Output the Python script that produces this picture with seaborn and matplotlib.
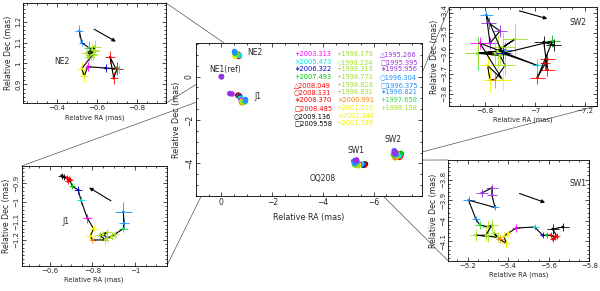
import numpy as np
import pandas as pd
import matplotlib
matplotlib.use("Agg")
import matplotlib.pyplot as plt
from matplotlib.ticker import MultipleLocator, FixedLocator, FuncFormatter
from matplotlib.patches import ConnectionPatch
import seaborn as sns

# ---------------- data ----------------
EPOCHS = ["1995.266", "1995.395", "1995.956", "1996.304", "1996.375", "1996.821",
          "1997.658", "1998.158", "1998.179", "1998.234", "1998.313", "1998.771",
          "1998.828", "1998.831", "2000.991", "2001.010", "2001.348", "2001.785",
          "2003.313", "2005.473", "2006.322", "2007.493", "2008.049", "2008.131",
          "2008.370", "2008.485", "2009.136", "2009.558"]
EPOCH_COLORS = ["#9a30e6", "#9a30e6", "#9a30e6", "#1e90ff", "#1e90ff", "#1e90ff",
                "#2ed84a", "#a2e028", "#a2e028", "#a2e028", "#a2e028", "#a2e028",
                "#a2e028", "#a2e028", "#ff8000", "#f2f200", "#f2f200", "#f2f200",
                "#ff00ff", "#00dede", "#0000cd", "#00c800", "#ff0000", "#ff0000",
                "#ff0000", "#ff0000", "#000000", "#000000"]
LEGEND_COL1 = ["2003.313", "2005.473", "2006.322", "2007.493", "2008.049", "2008.131",
               "2008.370", "2008.485", "2009.136", "2009.558"]
LEGEND_COL2 = ["1998.179", "1998.234", "1998.313", "1998.771", "1998.828", "1998.831",
               "2000.991", "2001.010", "2001.348", "2001.785"]
LEGEND_COL3 = ["1995.266", "1995.395", "1995.956", "1996.304", "1996.375", "1996.821",
               "1997.658", "1998.158"]
SYM_COL1 = ["+", "×", "∗", "+", "△", "○", "∗", "□", "○", "□"]
SYM_COL2 = ["+", "◇", "+", "+", "+", "+", "×", "+", "×", "+"]
SYM_COL3 = ["△", "□", "∗", "○", "□", "∗", "+", "+"]

J1_YTICKS = [-0.9, -1.0, -1.1, -1.2]

# NE2 component
NE2_EP = [3, 4, 6, 7, 8, 9, 10, 11, 12, 13, 15, 16, 18, 20, 19, 21, 22, 23, 24]
NE2_RA = [-0.513, -0.525, -0.560, -0.585, -0.570, -0.590, -0.560, -0.578, -0.550, -0.582,
          -0.525, -0.538, -0.555, -0.645, -0.712, -0.697, -0.667, -0.685, -0.702]
NE2_DEC = [1.155, 1.100, 1.075, 1.060, 1.040, 1.080, 1.030, 1.065, 1.050, 1.045,
           0.975, 0.940, 0.985, 0.978, 0.975, 0.972, 1.030, 0.930, 0.975]
NE2_ERA = [0.020, 0.015, 0.025, 0.03, 0.03, 0.03, 0.025, 0.03, 0.03, 0.025,
           0.025, 0.02, 0.015, 0.015, 0.02, 0.015, 0.025, 0.02, 0.03]
NE2_EDEC = [0.030, 0.015, 0.030, 0.03, 0.03, 0.03, 0.030, 0.03, 0.03, 0.030,
            0.030, 0.03, 0.020, 0.020, 0.02, 0.015, 0.030, 0.03, 0.03]

# J1 component
J1_EP = [3, 4, 6, 7, 8, 9, 10, 11, 12, 13, 14, 15, 16, 18, 19, 20, 21, 22, 23, 24, 25, 26, 27]
J1_RA = [-0.945, -0.948, -0.945, -0.905, -0.890, -0.870, -0.850, -0.870, -0.835, -0.860,
         -0.800, -0.790, -0.805, -0.776, -0.746, -0.733, -0.705, -0.690, -0.685, -0.695,
         -0.680, -0.665, -0.655]
J1_DEC = [-1.050, -1.112, -1.140, -1.170, -1.180, -1.190, -1.170, -1.160, -1.175, -1.200,
          -1.200, -1.180, -1.140, -1.085, -0.990, -0.935, -0.915, -0.875, -0.890, -0.880,
          -0.870, -0.865, -0.860]
J1_ERA = [0.040, 0.025, 0.020, 0.02, 0.02, 0.02, 0.02, 0.02, 0.025, 0.02,
          0.015, 0.02, 0.02, 0.020, 0.020, 0.020, 0.015, 0.015, 0.015, 0.015,
          0.015, 0.015, 0.015]
J1_EDEC = [0.050, 0.030, 0.020, 0.02, 0.02, 0.02, 0.02, 0.02, 0.02, 0.02,
           0.015, 0.02, 0.02, 0.025, 0.025, 0.020, 0.015, 0.015, 0.015, 0.015,
           0.015, 0.015, 0.015]
J1_EARLY_EP = [0, 1]
J1_EARLY_RA = [-0.33, -0.42]
J1_EARLY_DEC = [-0.78, -0.80]

# NE1 reference
NE1_EP = [20, 0]
NE1_RA = [0.0, 0.0]
NE1_DEC = [0.0, 0.0]

# SW1 component
SW1_EP = list(range(28))
SW1_RA = [-5.270, -5.320, -5.320, -5.335, -5.205, -5.240, -5.260, -5.300, -5.320, -5.290,
          -5.240, -5.300, -5.350, -5.330, -5.360, -5.390, -5.380, -5.400, -5.440, -5.530,
          -5.570, -5.590, -5.610, -5.630, -5.620, -5.640, -5.620, -5.670]
SW1_DEC = [-3.865, -3.840, -3.875, -3.935, -3.900, -3.990, -4.020, -4.030, -4.020, -4.070,
           -4.070, -4.075, -4.080, -4.060, -4.090, -4.110, -4.075, -4.060, -4.035, -4.030,
           -4.070, -4.070, -4.070, -4.080, -4.090, -4.075, -4.040, -4.030]
SW1_ERA = [0.030, 0.030, 0.025, 0.020, 0.030, 0.020, 0.025, 0.030, 0.030, 0.030,
           0.030, 0.030, 0.025, 0.020, 0.020, 0.020, 0.020, 0.020, 0.020, 0.020,
           0.015, 0.015, 0.015, 0.015, 0.015, 0.015, 0.030, 0.030]
SW1_EDEC = [0.020, 0.020, 0.020, 0.015, 0.020, 0.015, 0.020, 0.030, 0.030, 0.030,
            0.030, 0.030, 0.025, 0.020, 0.020, 0.020, 0.020, 0.015, 0.020, 0.015,
            0.015, 0.015, 0.015, 0.015, 0.015, 0.015, 0.025, 0.020]

# SW2 component
SW2_EP = list(range(28))
SW2_RA = [-6.815, -6.860, -6.820, -6.805, -6.870, -6.880, -6.770, -6.850, -6.920, -6.870,
          -6.840, -6.770, -6.860, -6.880, -6.840, -6.820, -6.810, -6.870, -6.780, -7.010,
          -6.870, -7.070, -7.010, -7.050, -7.040, -7.050, -7.035, -7.075]
SW2_DEC = [-3.450, -3.490, -3.550, -3.410, -3.600, -3.585, -3.600, -3.590, -3.530, -3.570,
           -3.600, -3.600, -3.610, -3.660, -3.730, -3.730, -3.660, -3.730, -3.550, -3.660,
           -3.600, -3.540, -3.720, -3.630, -3.650, -3.680, -3.545, -3.560]
SW2_ERA = [0.030, 0.030, 0.030, 0.025, 0.040, 0.030, 0.050, 0.050, 0.050, 0.050,
           0.050, 0.050, 0.040, 0.040, 0.030, 0.030, 0.030, 0.040, 0.040, 0.020,
           0.030, 0.030, 0.030, 0.030, 0.020, 0.030, 0.040, 0.030]
SW2_EDEC = [0.030, 0.030, 0.030, 0.020, 0.050, 0.040, 0.080, 0.080, 0.080, 0.070,
            0.060, 0.060, 0.050, 0.050, 0.040, 0.060, 0.050, 0.050, 0.030, 0.030,
            0.030, 0.030, 0.030, 0.030, 0.030, 0.030, 0.030, 0.030]

# ---------------- style ----------------
sns.set_theme(style="ticks")
plt.rcParams["font.family"] = ["DejaVu Sans"]
plt.rcParams["axes.linewidth"] = 0.6
plt.rcParams["axes.unicode_minus"] = True

PAL = dict(zip(EPOCHS, EPOCH_COLORS))
fmt = FuncFormatter(lambda v, p: f"{v:g}".replace("-", "\u2212"))

fig = plt.figure(figsize=(6.0, 2.91), dpi=100)

ax_main = fig.add_axes([0.3267, 0.3265, 0.3767, 0.5257])
ax_ne2 = fig.add_axes([0.0389, 0.645, 0.2373, 0.3457])
ax_j1 = fig.add_axes([0.0361, 0.0859, 0.2417, 0.3437])
ax_sw2 = fig.add_axes([0.7488, 0.6357, 0.2457, 0.3392])
ax_sw1 = fig.add_axes([0.7472, 0.1031, 0.2350, 0.3471])


def style_axes(ax, xlim, ylim, xmaj, xmin, ymaj, ymin, fs_tick, fs_xlab, fs_ylab,
               xlabpad, ylabpad, yticks=None):
    ax.set_xlim(*xlim)
    ax.set_ylim(*ylim)
    ax.xaxis.set_major_locator(MultipleLocator(xmaj))
    ax.xaxis.set_minor_locator(MultipleLocator(xmin))
    if yticks is None:
        ax.yaxis.set_major_locator(MultipleLocator(ymaj))
    else:
        ax.yaxis.set_major_locator(FixedLocator(yticks))
    ax.yaxis.set_minor_locator(MultipleLocator(ymin))
    ax.xaxis.set_major_formatter(fmt)
    ax.yaxis.set_major_formatter(fmt)
    ax.tick_params(which="both", direction="in", top=True, right=True,
                   labelsize=fs_tick, pad=1.5, width=0.5, color="black")
    ax.tick_params(which="major", length=2.6)
    ax.tick_params(which="minor", length=1.3)
    ax.tick_params(axis="y", labelrotation=90)
    for lab in ax.get_yticklabels():
        lab.set_va("center")
    ax.set_xlabel("Relative RA (mas)", fontsize=fs_xlab, labelpad=xlabpad)
    ax.set_ylabel("Relative Dec (mas)", fontsize=fs_ylab, labelpad=ylabpad)
    for s in ax.spines.values():
        s.set_color("black")
        s.set_linewidth(0.6)


def draw_component(ax, ra, dec, ep, era, edec):
    labels = [EPOCHS[i] for i in ep]
    for x, y, ex, ey, lab in zip(ra, dec, era, edec, labels):
        ax.errorbar(x, y, xerr=ex, yerr=ey, fmt="none", ecolor=PAL[lab],
                    elinewidth=0.6, capsize=0, zorder=2)
    sns.lineplot(x=ra, y=dec, sort=False, estimator=None, color="black",
                 linewidth=0.8, ax=ax, zorder=3)
    sns.scatterplot(x=ra, y=dec, hue=labels, palette=PAL, hue_order=EPOCHS,
                    s=4, linewidth=0, legend=False, ax=ax, zorder=4)


# ---------------- main panel ----------------
main_ra = NE1_RA + NE2_RA + J1_EARLY_RA + J1_RA + SW1_RA + SW2_RA
main_dec = NE1_DEC + NE2_DEC + J1_EARLY_DEC + J1_DEC + SW1_DEC + SW2_DEC
main_ep = NE1_EP + NE2_EP + J1_EARLY_EP + J1_EP + SW1_EP + SW2_EP
main_df = pd.DataFrame({"ra": main_ra, "dec": main_dec, "ep": main_ep})
# later epochs first so early epochs sit on top, as in the original
main_df = main_df.sort_values("ep", ascending=False, kind="stable")
main_df["epoch"] = [EPOCHS[i] for i in main_df["ep"]]
sns.scatterplot(data=main_df, x="ra", y="dec", hue="epoch", palette=PAL,
                hue_order=EPOCHS, s=16, linewidth=0, legend=False, ax=ax_main, zorder=3)
style_axes(ax_main, (1.0, -7.9), (-5.5, 1.55), 2, 0.5, 2, 0.5, 5.5, 5.8, 5.8, 4, 3)

for name, x, y in [("NE2", -1.02, 1.11), ("NE1(ref)", 0.49, 0.34), ("J1", -1.31, -0.9),
                   ("SW1", -4.96, -3.40), ("SW2", -6.44, -2.88), ("OQ208", -3.46, -4.71)]:
    ax_main.text(x, y, name, fontsize=5.5, ha="left", va="center", zorder=5)

row0, dy = 0.928, 0.0503
for col_x, col_labels, col_syms in [(0.434, LEGEND_COL1, SYM_COL1),
                                     (0.622, LEGEND_COL2, SYM_COL2),
                                     (0.814, LEGEND_COL3, SYM_COL3)]:
    for k, (lab, sym) in enumerate(zip(col_labels, col_syms)):
        ax_main.text(col_x, row0 - k * dy, sym + lab, transform=ax_main.transAxes,
                     fontsize=4.8, color=PAL[lab], ha="left", va="center")

# ---------------- insets ----------------
draw_component(ax_ne2, NE2_RA, NE2_DEC, NE2_EP, NE2_ERA, NE2_EDEC)
style_axes(ax_ne2, (-0.233, -0.945), (0.81, 1.29), 0.2, 0.05, 0.1, 0.02, 5, 4.8, 5.6, 2, 1.5)
ax_ne2.text(-0.425, 1.008, "NE2", fontsize=5.5, ha="center", va="center")
ax_ne2.annotate("", xy=(-0.708, 1.098), xytext=(-0.575, 1.17),
                arrowprops=dict(arrowstyle="-|>", color="black", lw=0.8, mutation_scale=5))

draw_component(ax_j1, J1_RA, J1_DEC, J1_EP, J1_ERA, J1_EDEC)
style_axes(ax_j1, (-0.467, -1.149), (-1.338, -0.808), 0.2, 0.05, 0.1, 0.02, 5, 4.8, 5.6, 2, 1.5,
           yticks=J1_YTICKS)
ax_j1.text(-0.674, -1.1, "J1", fontsize=5.5, ha="center", va="center")
ax_j1.annotate("", xy=(-0.773, -0.915), xytext=(-0.898, -1.0),
               arrowprops=dict(arrowstyle="-|>", color="black", lw=0.8, mutation_scale=5))

draw_component(ax_sw2, SW2_RA, SW2_DEC, SW2_EP, SW2_ERA, SW2_EDEC)
style_axes(ax_sw2, (-6.657, -7.247), (-3.86, -3.373), 0.2, 0.05, 0.1, 0.02, 5, 4.8, 5.6, 2, 1.5)
ax_sw2.text(-7.173, -3.449, "SW2", fontsize=5.5, ha="center", va="center")
ax_sw2.annotate("", xy=(-7.06, -3.433), xytext=(-6.927, -3.387),
                arrowprops=dict(arrowstyle="-|>", color="black", lw=0.8, mutation_scale=5))

draw_component(ax_sw1, SW1_RA, SW1_DEC, SW1_EP, SW1_ERA, SW1_EDEC)
style_axes(ax_sw1, (-5.105, -5.8), (-4.195, -3.705), 0.2, 0.05, 0.1, 0.02, 5, 4.8, 5.6, 2, 1.5)
ax_sw1.text(-5.742, -3.82, "SW1", fontsize=5.5, ha="center", va="center")
ax_sw1.annotate("", xy=(-5.595, -3.916), xytext=(-5.443, -3.863),
                arrowprops=dict(arrowstyle="-|>", color="black", lw=0.8, mutation_scale=5))

# ---------------- connector lines ----------------
connectors = [
    (ax_ne2, (1, 1), (-0.6, 1.15)),
    (ax_ne2, (1, 0), (-0.6, 0.8)),
    (ax_j1, (0, 1), (-0.25, -0.65)),
    (ax_j1, (1, 0), (-1.0, -1.26)),
    (ax_sw2, (0, 1), (-6.67, -3.3)),
    (ax_sw2, (1, 0), (-7.0, -3.75)),
    (ax_sw1, (0, 1), (-5.2, -3.85)),
    (ax_sw1, (0, 0), (-5.3, -4.25)),
]
for ax_in, corner, target in connectors:
    con = ConnectionPatch(xyA=corner, coordsA=ax_in.transAxes, xyB=target,
                          coordsB=ax_main.transData, color="#555555", lw=0.5, zorder=0)
    fig.add_artist(con)

fig.savefig("out.png", dpi=100)
